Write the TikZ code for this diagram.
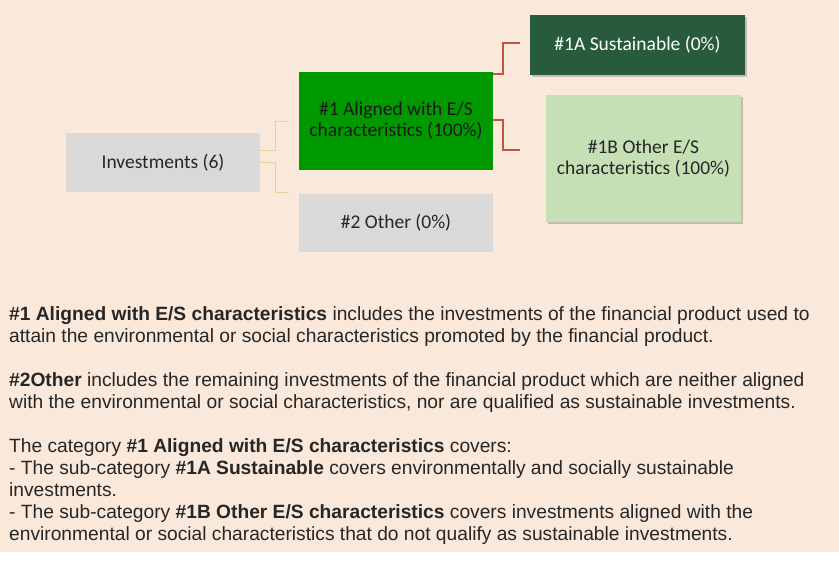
\documentclass[tikz,border=0pt]{standalone}
\usepackage{fontspec}
\setmainfont{Liberation Sans}
\newfontfamily\boxfont{Carlito}
\usetikzlibrary{shadows}
\definecolor{bgpeach}{HTML}{FAE8DA}
\definecolor{boxgray}{HTML}{D9D9D9}
\definecolor{greenA}{HTML}{009900}
\definecolor{darkgreen}{HTML}{285B3B}
\definecolor{lightgreen}{HTML}{C5E0B4}
\definecolor{redline}{HTML}{C4533D}
\definecolor{tanline}{HTML}{E8CFA0}
\definecolor{boxtext}{HTML}{262626}
\tikzset{
  catbox/.style={draw=none, inner sep=0pt, align=center, font=\boxfont\fontsize{19.5}{21}\selectfont, text=boxtext},
  shadowed/.style={drop shadow={shadow xshift=2pt, shadow yshift=-2pt, opacity=0.35, fill=black!60}},
  redconn/.style={draw=redline, line width=2pt},
  tanconn/.style={draw=tanline, line width=1pt}
}
\begin{document}
\begin{tikzpicture}[x=1pt,y=-1pt]
\useasboundingbox (0,0) rectangle (839,562);
\fill[bgpeach] (0,0) rectangle (839,552);
\fill[white] (0,552) rectangle (839,562);
% boxes
\node[catbox, fill=boxgray, minimum width=194pt, minimum height=59pt] (inv) at (163,162.5) {Investments (6)};
\node[catbox, fill=greenA, minimum width=194pt, minimum height=98pt, text=black!90] (a1) at (396,121) {\#1 Aligned with E/S\\characteristics (100\%)};
\node[catbox, fill=boxgray, minimum width=194pt, minimum height=58pt] (o2) at (396,223) {\#2 Other (0\%)};
\node[catbox, shadowed, fill=darkgreen, minimum width=215pt, minimum height=60pt, text=white] (s1a) at (637.5,45) {\#1A Sustainable (0\%)};
\node[catbox, shadowed, fill=lightgreen, minimum width=195pt, minimum height=127pt] (o1b) at (643.5,158.5) {\#1B Other E/S\\characteristics (100\%)};
% tan connectors
\coordinate (t1) at (289,121);
\coordinate (t2) at (289,192);
\draw[tanconn] (inv.east |- 0,150) -- (275,150) -- (275,121) -- (t1);
\draw[tanconn] (inv.east |- 0,162) -- (275,162) -- (275,192) -- (t2);
% red connectors
\coordinate (r1) at (520,43);
\coordinate (r2) at (520,150);
\draw[redconn] (a1.east |- 0,74) -- (503,74) -- (503,43) -- (r1);
\draw[redconn] (a1.east |- 0,120) -- (503,120) -- (503,150) -- (r2);
% body text
\node[anchor=north west, inner sep=0pt, align=left, text=black!85, font=\fontsize{19.2}{22}\selectfont] (body) at (9,306) {%
\textbf{\#1 Aligned with E/S characteristics} includes the investments of the financial product used to\\
attain the environmental or social characteristics promoted by the financial product.\\[22pt]
\textbf{\#2Other} includes the remaining investments of the financial product which are neither aligned\\
with the environmental or social characteristics, nor are qualified as sustainable investments.\\[22pt]
The category \textbf{\#1 Aligned with E/S characteristics} covers:\\
- The sub-category \textbf{\#1A Sustainable} covers environmentally and socially sustainable\\
investments.\\
- The sub-category \textbf{\#1B Other E/S characteristics} covers investments aligned with the\\
environmental or social characteristics that do not qualify as sustainable investments.};
\end{tikzpicture}
\end{document}
